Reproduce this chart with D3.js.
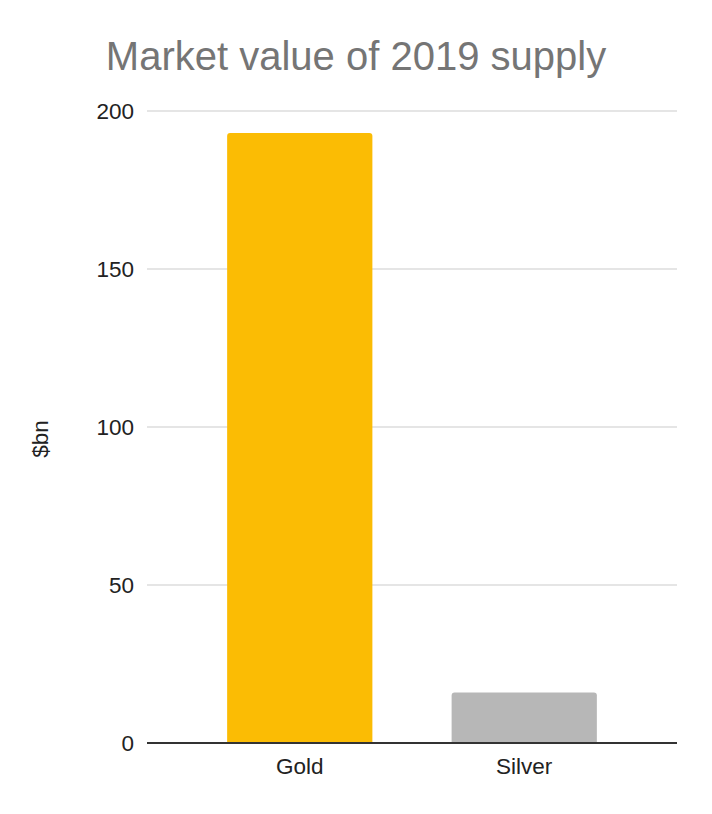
<!DOCTYPE html>
<html>
<head>
<meta charset="utf-8">
<script src="https://cdn.jsdelivr.net/npm/d3@7"></script>
<style>
  html, body { margin: 0; padding: 0; background: #fff; }
  svg { display: block; font-family: "Liberation Sans", Arial, sans-serif; }
</style>
</head>
<body>
<div id="chart"></div>
<script>
const categories = ["Gold", "Silver"];
const values = [193, 16];
const barColors = ["#fbbc04", "#b7b7b7"];
const yTicks = [0, 50, 100, 150, 200];
const title = "Market value of 2019 supply";
const yLabel = "$bn";

const W = 712, H = 814;
const margin = { left: 147, right: 35, top: 111, bottom: 71 };

const svg = d3.select("#chart").append("svg").attr("width", W).attr("height", H);

const x = d3.scaleBand().domain(categories)
  .range([margin.left, W - margin.right])
  .paddingInner(0.353).paddingOuter(0.357);
const y = d3.scaleLinear().domain([0, 200]).range([H - margin.bottom, margin.top]);

// gridlines
svg.append("g").selectAll("line").data(yTicks.filter(d => d !== 0)).join("line")
  .attr("x1", margin.left).attr("x2", W - margin.right)
  .attr("y1", d => y(d)).attr("y2", d => y(d))
  .attr("stroke", "#cccccc").attr("stroke-width", 1.2);

// y tick labels
svg.append("g").selectAll("text").data(yTicks).join("text")
  .attr("x", 134).attr("y", d => y(d))
  .attr("dy", "0.35em").attr("text-anchor", "end")
  .attr("font-size", 22.5).attr("fill", "#222")
  .text(d => d);

// bars with rounded top corners
const r = 3;
svg.append("g").selectAll("path").data(categories).join("path")
  .attr("d", (c, i) => {
    const x0 = x(c), x1 = x(c) + x.bandwidth();
    const yt = y(values[i]), yb = y(0);
    return `M${x0},${yb}V${yt + r}Q${x0},${yt} ${x0 + r},${yt}H${x1 - r}Q${x1},${yt} ${x1},${yt + r}V${yb}Z`;
  })
  .attr("fill", (c, i) => barColors[i]);

// baseline axis
svg.append("line")
  .attr("x1", margin.left).attr("x2", W - margin.right)
  .attr("y1", y(0)).attr("y2", y(0))
  .attr("stroke", "#333").attr("stroke-width", 2);

// x labels
svg.append("g").selectAll("text").data(categories).join("text")
  .attr("x", c => x(c) + x.bandwidth() / 2).attr("y", 774)
  .attr("text-anchor", "middle")
  .attr("font-size", 22.5).attr("fill", "#222")
  .text(c => c);

// y axis label
svg.append("text")
  .attr("transform", "translate(48,439) rotate(-90)")
  .attr("text-anchor", "middle")
  .attr("font-size", 22.5).attr("fill", "#222")
  .text(yLabel);

// title
svg.append("text")
  .attr("x", 356).attr("y", 70)
  .attr("text-anchor", "middle")
  .attr("font-size", 40).attr("fill", "#757575")
  .text(title);
</script>
</body>
</html>
